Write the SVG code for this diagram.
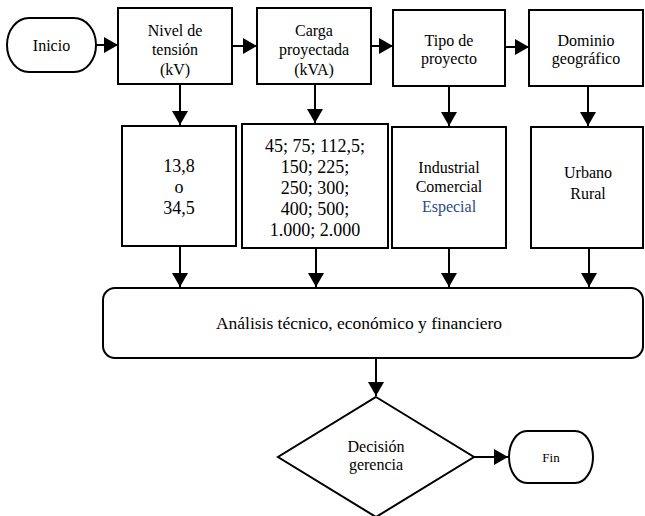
<svg xmlns="http://www.w3.org/2000/svg" width="645" height="516" viewBox="0 0 645 516" font-family="Liberation Serif, DejaVu Serif, serif">
<style>
.box{fill:#fff;stroke:#000;stroke-width:2}
text{font-family:'Liberation Serif','DejaVu Serif',serif;fill:#000;text-anchor:middle}
.s16{font-size:16px}
.s18{font-size:18px}
.c{stroke:#000;stroke-width:2;fill:none;marker-end:url(#ah)}
</style>
<defs>
<marker id="ah" viewBox="0 0 14 16" refX="14" refY="8" markerWidth="14" markerHeight="16" markerUnits="userSpaceOnUse" orient="auto">
<path d="M0,0 L14,8 L0,16 Z" fill="#000"/>
</marker>
</defs>
<rect width="645" height="516" fill="#fff"/>
<g id="connectors">
<line class="c" x1="96" y1="45" x2="118" y2="45"/>
<line class="c" x1="232" y1="46" x2="257" y2="46"/>
<line class="c" x1="371" y1="46" x2="393" y2="46"/>
<line class="c" x1="505" y1="47" x2="529" y2="47"/>
<line class="c" x1="180" y1="84" x2="180" y2="125"/>
<line class="c" x1="315" y1="84" x2="315" y2="123"/>
<line class="c" x1="449" y1="86" x2="449" y2="126"/>
<line class="c" x1="588" y1="86" x2="588" y2="126"/>
<line class="c" x1="180" y1="246" x2="180" y2="287"/>
<line class="c" x1="316" y1="248" x2="316" y2="287"/>
<line class="c" x1="449" y1="248" x2="449" y2="287"/>
<line class="c" x1="589" y1="248" x2="589" y2="287"/>
<line class="c" x1="376" y1="358" x2="376" y2="396"/>
<line class="c" x1="474" y1="457" x2="508" y2="457"/>
</g>
<g id="inicio">
<rect class="box" x="7" y="18" width="89" height="54" rx="22" ry="27"/>
<text class="s16" x="51.5" y="51">Inicio</text>
</g>
<g id="nivel">
<rect class="box" x="118" y="8" width="114" height="76"/>
<text class="s16" x="175" y="36">Nivel de</text>
<text class="s16" x="175" y="55">tensión</text>
<text class="s16" x="175" y="75">(kV)</text>
</g>
<g id="carga">
<rect class="box" x="257" y="8" width="114" height="76"/>
<text class="s16" x="314" y="36">Carga</text>
<text class="s16" x="314" y="55">proyectada</text>
<text class="s16" x="314" y="75">(kVA)</text>
</g>
<g id="tipo">
<rect class="box" x="393" y="10" width="112" height="76"/>
<text class="s16" x="449" y="46">Tipo de</text>
<text class="s16" x="449" y="64">proyecto</text>
</g>
<g id="dominio">
<rect class="box" x="529" y="10" width="114" height="76"/>
<text class="s16" x="586" y="46">Dominio</text>
<text class="s16" x="586" y="64">geográfico</text>
</g>
<g id="tension-valores">
<rect class="box" x="122" y="126" width="114" height="120"/>
<text class="s18" x="179" y="172">13,8</text>
<text class="s18" x="179" y="193">o</text>
<text class="s18" x="179" y="214">34,5</text>
</g>
<g id="carga-valores">
<rect class="box" x="242" y="124" width="146" height="124"/>
<text class="s18" x="315" y="152">45; 75; 112,5;</text>
<text class="s18" x="315" y="173">150; 225;</text>
<text class="s18" x="315" y="194">250; 300;</text>
<text class="s18" x="315" y="215">400; 500;</text>
<text class="s18" x="315" y="236">1.000; 2.000</text>
</g>
<g id="tipo-valores">
<rect class="box" x="392" y="127" width="114" height="121"/>
<text class="s16" x="449" y="173">Industrial</text>
<text class="s16" x="449" y="192">Comercial</text>
<text class="s16" x="449" y="212" style="fill:#2E4A86">Especial</text>
</g>
<g id="dominio-valores">
<rect class="box" x="531" y="127" width="112" height="121"/>
<text class="s16" x="588" y="178">Urbano</text>
<text class="s16" x="588" y="199">Rural</text>
</g>
<g id="analisis">
<rect class="box" x="103" y="288" width="540" height="70" rx="12" ry="12"/>
<text style="font-size:17.5px" x="359" y="329">Análisis técnico, económico y financiero</text>
</g>
<g id="decision">
<polygon class="box" points="376,397 474,457 376,517 278,457"/>
<text class="s16" x="376" y="452">Decisión</text>
<text class="s16" x="376" y="470">gerencia</text>
</g>
<g id="fin">
<rect class="box" x="509" y="431" width="84" height="52" rx="18" ry="26"/>
<text style="font-size:13px" x="551" y="462">Fin</text>
</g>
</svg>
